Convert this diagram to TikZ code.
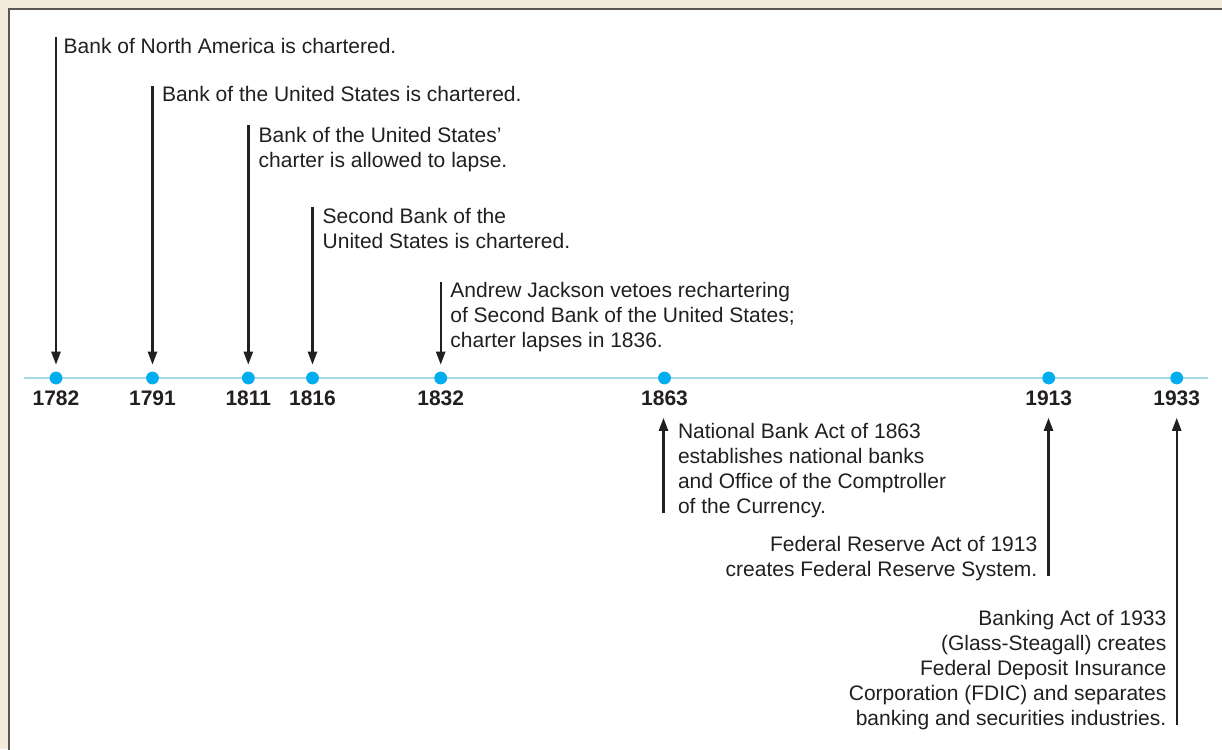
\documentclass[tikz,border=0pt]{standalone}
\usepackage{fontspec}
\setmainfont{Liberation Sans}
\usetikzlibrary{arrows.meta}
\definecolor{beige}{HTML}{F3ECDC}
\definecolor{framegray}{HTML}{5B5651}
\definecolor{txt}{HTML}{231F20}
\definecolor{tline}{HTML}{A6DBEA}
\definecolor{tdot}{HTML}{00AEEF}
\begin{document}
\begin{tikzpicture}[x=1pt,y=-1pt,
  evt/.style={inner sep=0pt, font=\fontsize{21}{25}\selectfont, text=txt},
  yr/.style={font=\bfseries\fontsize{21}{25}\selectfont, text=txt, anchor=base, inner sep=0pt},
  tdotnode/.style={circle, fill=tdot, minimum size=12.8pt, inner sep=0pt},
  ptr/.style={draw=txt, line width=2.4pt, -{Triangle[width=9pt,length=13pt]}}]
\useasboundingbox (0,0) rectangle (1222,749);
\fill[beige] (0,0) rectangle (1222,749);
\filldraw[fill=white, draw=framegray, line width=2pt] (9,9) rectangle (1250,780);
% timeline
\coordinate (tlA) at (24,378);
\coordinate (tlB) at (1208,378);
\draw[tline, line width=2.8pt] (tlA) -- (tlB);
% dots
\node[tdotnode] (d1782) at (56,378) {};
\node[tdotnode] (d1791) at (152.5,378) {};
\node[tdotnode] (d1811) at (248.3,378) {};
\node[tdotnode] (d1816) at (312.5,378) {};
\node[tdotnode] (d1832) at (440.7,378) {};
\node[tdotnode] (d1863) at (664.5,378) {};
\node[tdotnode] (d1913) at (1048.7,378) {};
\node[tdotnode] (d1933) at (1176.7,378) {};
% years
\node[yr] (y1782) at (56,405) {1782};
\node[yr] (y1791) at (152.5,405) {1791};
\node[yr] (y1811) at (248.3,405) {1811};
\node[yr] (y1816) at (312.5,405) {1816};
\node[yr] (y1832) at (440.7,405) {1832};
\node[yr] (y1863) at (664.5,405) {1863};
\node[yr] (y1913) at (1048.7,405) {1913};
\node[yr] (y1933) at (1176.7,405) {1933};
% events above
\node[evt, anchor=north west, align=left] (e1782) at (63.5,38) {Bank of North America is chartered.};
\node[evt, anchor=north west, align=left] (e1791) at (161.8,86.5) {Bank of the United States is chartered.};
\node[evt, anchor=north west, align=left] (e1811) at (258.5,126.7) {Bank of the United States'\\charter is allowed to lapse.};
\node[evt, anchor=north west, align=left] (e1816) at (322.5,208.3) {Second Bank of the\\United States is chartered.};
\node[evt, anchor=north west, align=left] (e1832) at (450.2,281.7) {Andrew Jackson vetoes rechartering\\of Second Bank of the United States;\\charter lapses in 1836.};
% events below
\node[evt, anchor=north west, align=left] (e1863) at (677.8,423) {National Bank Act of 1863\\establishes national banks\\and Office of the Comptroller\\of the Currency.};
\node[evt, anchor=north east, align=right] (e1913) at (1037.5,536) {Federal Reserve Act of 1913\\creates Federal Reserve System.};
\node[evt, anchor=north east, align=right] (e1933) at (1166.5,610) {Banking Act of 1933\\(Glass-Steagall) creates\\Federal Deposit Insurance\\Corporation (FDIC) and separates\\banking and securities industries.};
% pointer ends
\coordinate (t1782) at (56,37);
\coordinate (t1791) at (152.5,86);
\coordinate (t1811) at (248.3,125);
\coordinate (t1816) at (312.5,207.3);
\coordinate (t1832) at (440.7,282);
\coordinate (b1863) at (663.5,513);
\coordinate (b1913) at (1048.5,576);
\coordinate (b1933) at (1176.7,725);
% pointers
\draw[ptr, shorten >=6.7pt] (t1782) -- (t1782 |- d1782.north);
\draw[ptr, shorten >=6.7pt] (t1791) -- (t1791 |- d1791.north);
\draw[ptr, shorten >=6.7pt] (t1811) -- (t1811 |- d1811.north);
\draw[ptr, shorten >=6.7pt] (t1816) -- (t1816 |- d1816.north);
\draw[ptr, shorten >=6.7pt] (t1832) -- (t1832 |- d1832.north);
\draw[ptr, shorten >=33.2pt] (b1863) -- (b1863 |- d1863.south);
\draw[ptr, shorten >=33.2pt] (b1913) -- (b1913 |- d1913.south);
\draw[ptr, shorten >=33.2pt] (b1933) -- (b1933 |- d1933.south);
\end{tikzpicture}
\end{document}
